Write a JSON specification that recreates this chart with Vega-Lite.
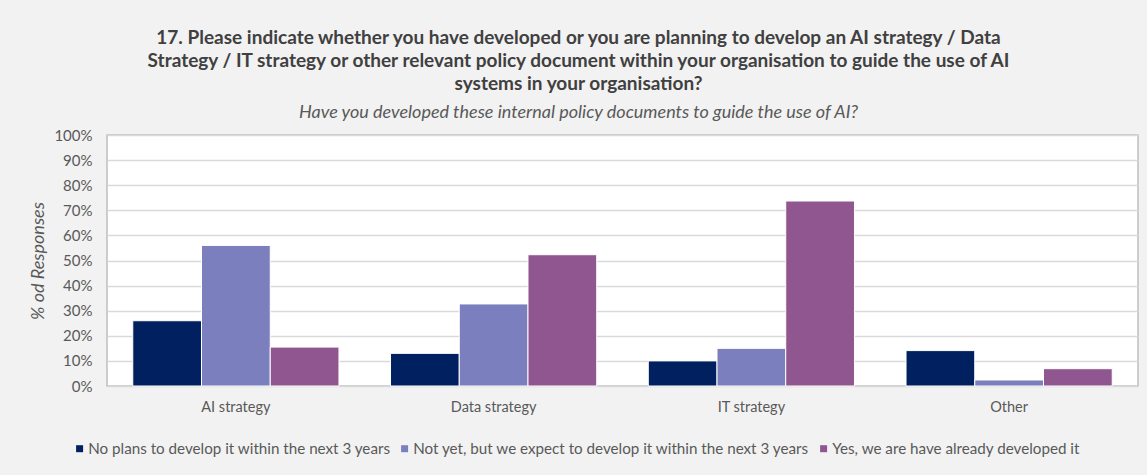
{
  "$schema": "https://vega.github.io/schema/vega-lite/v6.json",
  "width": 1031,
  "height": 251,
  "autosize": {"type": "none"},
  "padding": {"left": 107, "top": 135, "right": 9, "bottom": 89},
  "background": "#f2f2f2",
  "title": {
    "text": ["17. Please indicate whether you have developed or you are planning to develop an AI strategy / Data", "Strategy / IT strategy or other relevant policy document within your organisation to guide the use of AI", "systems in your organisation?"],
    "subtitle": "Have you developed these internal policy documents to guide the use of AI?",
    "anchor": "middle",
    "dx": -44,
    "offset": 6,
    "font": "Lato",
    "fontSize": 19,
    "fontWeight": "bold",
    "color": "#404040",
    "lineHeight": 23,
    "subtitleFont": "Lato",
    "subtitleFontSize": 18,
    "subtitleFontStyle": "italic",
    "subtitleColor": "#595959",
    "subtitlePadding": 10
  },
  "data": {
    "values": [
      {"category": "AI strategy", "series": "No plans to develop it within the next 3 years", "value": 0.26},
      {"category": "AI strategy", "series": "Not yet, but we expect to develop it within the next 3 years", "value": 0.56},
      {"category": "AI strategy", "series": "Yes, we are have already developed it", "value": 0.155},
      {"category": "Data strategy", "series": "No plans to develop it within the next 3 years", "value": 0.13},
      {"category": "Data strategy", "series": "Not yet, but we expect to develop it within the next 3 years", "value": 0.327},
      {"category": "Data strategy", "series": "Yes, we are have already developed it", "value": 0.523},
      {"category": "IT strategy", "series": "No plans to develop it within the next 3 years", "value": 0.10},
      {"category": "IT strategy", "series": "Not yet, but we expect to develop it within the next 3 years", "value": 0.15},
      {"category": "IT strategy", "series": "Yes, we are have already developed it", "value": 0.737},
      {"category": "Other", "series": "No plans to develop it within the next 3 years", "value": 0.141},
      {"category": "Other", "series": "Not yet, but we expect to develop it within the next 3 years", "value": 0.024},
      {"category": "Other", "series": "Yes, we are have already developed it", "value": 0.069}
    ]
  },
  "mark": {"type": "bar", "stroke": "white", "strokeWidth": 1},
  "encoding": {
    "x": {
      "field": "category",
      "type": "nominal",
      "sort": ["AI strategy", "Data strategy", "IT strategy", "Other"],
      "scale": {"paddingInner": 0.2, "paddingOuter": 0.1},
      "axis": {
        "title": null,
        "labelAngle": 0,
        "labelFont": "Lato",
        "labelFontSize": 14.5,
        "labelColor": "#595959",
        "labelPadding": 14,
        "ticks": false,
        "domain": false
      }
    },
    "xOffset": {
      "field": "series",
      "type": "nominal",
      "scale": {"paddingInner": 0, "paddingOuter": 0}
    },
    "y": {
      "field": "value",
      "type": "quantitative",
      "scale": {"domain": [0, 1], "nice": false},
      "axis": {
        "title": "% od Responses",
        "titleFont": "Lato",
        "titleFontSize": 18,
        "titleFontStyle": "italic",
        "titleFontWeight": "normal",
        "titleColor": "#595959",
        "titlePadding": 6,
        "format": ".0%",
        "values": [0, 0.1, 0.2, 0.3, 0.4, 0.5, 0.6, 0.7, 0.8, 0.9, 1],
        "labelFont": "Lato",
        "labelFontSize": 15,
        "labelColor": "#595959",
        "labelPadding": 15,
        "ticks": false,
        "domain": false,
        "grid": true,
        "gridColor": "#d9d9d9",
        "gridWidth": 1.5
      }
    },
    "color": {
      "field": "series",
      "type": "nominal",
      "scale": {
        "domain": ["No plans to develop it within the next 3 years", "Not yet, but we expect to develop it within the next 3 years", "Yes, we are have already developed it"],
        "range": ["#00205f", "#7b7fbd", "#90568f"]
      },
      "legend": {
        "title": null,
        "orient": "none",
        "direction": "horizontal",
        "legendX": -35,
        "legendY": 306,
        "padding": 0,
        "symbolType": "square",
        "symbolSize": 49,
        "symbolStrokeWidth": 0,
        "labelFont": "Lato",
        "labelFontSize": 15.2,
        "labelColor": "#595959",
        "labelLimit": 500,
        "columnPadding": 6,
        "labelOffset": 1
      }
    }
  },
  "config": {
    "view": {"fill": "white", "stroke": "#bfbfbf", "strokeWidth": 1.5}
  }
}
